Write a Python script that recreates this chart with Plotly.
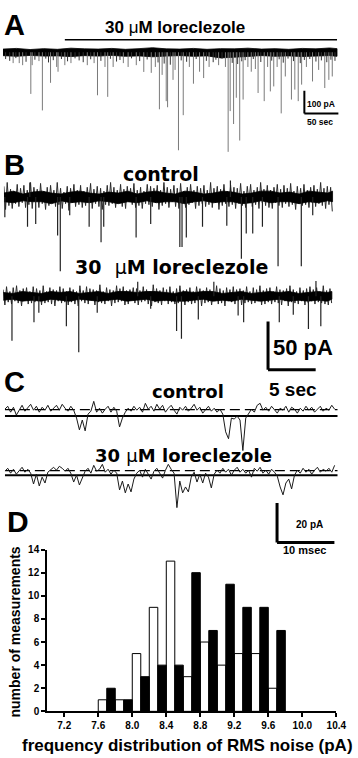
import plotly.graph_objects as go

W, H = 358, 758

# ---------------- Panel A: 500 s recording, events (s, pA) ----------------
A_drug_start_s = 91
A_record_end_s = 491
A_band_t = [0, 20, 40, 60, 80, 100, 120, 140, 160, 180, 200, 220, 240, 260, 280, 300,
            320, 340, 360, 380, 400, 420, 440, 460, 480, 491]
A_band_upper_pA = [14, 17, 12, 16, 13, 18, 15, 14, 17, 13, 16, 20, 15, 14, 17, 13,
                   16, 15, 18, 14, 16, 13, 17, 15, 19, 16]
A_band_lower_pA = [-15, -18, -14, -17, -16, -19, -15, -17, -14, -18, -16, -20, -17, -15, -18, -16,
                   -25, -22, -17, -15, -18, -16, -19, -17, -15, -18]
A_spike_t = [15, 24, 29, 41, 43, 53, 58, 70, 79, 81, 91, 100, 124, 134, 139, 150, 154, 162, 177, 184,
             196, 207, 218, 224, 230, 234, 240, 242, 250, 253, 258, 265, 274, 280, 289, 295, 303, 317,
             327, 331, 334, 339, 343, 348, 353, 360, 365, 371, 375, 384, 389, 393, 398, 403, 409, 415,
             424, 429, 434, 439, 446, 455, 464, 473, 479, 484]
A_spike_pA = [-48, -48, -57, -184, -57, -39, -257, -135, -65, -86, -57, -48, -57, -48, -190, -65, -197,
              -65, -48, -65, -57, -87, -91, -65, -252, -100, -216, -243, -122, -78, -433, -278, -65,
              -139, -86, -114, -65, -57, -65, -440, -260, -317, -201, -390, -209, -65, -86, -74, -180,
              -216, -65, -173, -151, -65, -270, -107, -209, -165, -216, -143, -65, -129, -78, -158,
              -122, -107]
A_small_t = [4, 10, 19, 34, 47, 63, 67, 74, 86, 95, 106, 112, 118, 129, 144, 158, 167, 172, 189, 201,
             212, 228, 237, 246, 262, 270, 284, 299, 309, 313, 322, 337, 345, 351, 356, 368, 379, 395,
             406, 412, 419, 427, 437, 443, 451, 460, 468, 476, 482, 488]
A_small_pA = [-30, -38, -26, -42, -33, -28, -45, -35, -30, -40, -27, -36, -44, -31, -38, -29, -41, -34,
              -27, -39, -32, -45, -50, -55, -36, -42, -30, -38, -44, -33, -29, -47, -52, -40, -35, -30,
              -43, -37, -31, -46, -28, -39, -48, -34, -30, -41, -36, -44, -33, -38]

# ---------------- Panel B: 34.5 s traces sampled every 0.175 s ----------------
B_sample_s = 0.175
B_ctrl_pA = [11, -13, 15, -9, 8, -12, 6, -7, 13, -10, 9, -6, 12, -11, 7, -8, 15, -12, 10, -5,
             8, -11, 14, -7, 6, -13, 10, -9, 12, -6, 7, -10, 15, -8, 9, -12, 5, -7, 11, -14,
             9, -6, 13, -10, 7, -8, 12, -11, 6, -9, 10, -5, 14, -12, 8, -7, 11, -10, 9, -13,
             6, -8, 12, -9, 15, -7, 10, -11, 7, -6, 13, -10, 8, -12, 11, -5, 9, -8, 14, -11,
             7, -9, 10, -12, 6, -7, 13, -8, 11, -10, 9, -6, 12, -13, 7, -9, 15, -7, 10, -11,
             8, -5, 12, -10, 9, -12, 14, -7, 6, -11, 10, -8, 13, -6, 7, -12, 11, -9, 9, -7,
             12, -10, 7, -8, 15, -11, 9, -6, 11, -13, 8, -9, 13, -7, 6, -10, 12, -8, 10, -12,
             9, -7, 14, -9, 6, -11, 11, -5, 13, -10, 7, -8, 10, -12, 15, -6, 8, -9, 12, -11,
             7, -12, 10, -6, 13, -9, 8, -11, 12, -7, 9, -10, 14, -8, 6, -13, 11, -7, 9, -9,
             13, -8, 7, -11, 10, -6, 12, -10, 8, -7, 15, -9, 9, -12, 11, -8, 10, -15]
B_lor_pA = [7, -9, 10, -6, 5, -8, 9, -5, 11, -7, 6, -10, 8, -4, 9, -8, 5, -7, 10, -6,
            8, -5, 6, -9, 11, -7, 5, -6, 9, -8, 7, -10, 6, -5, 10, -7, 8, -6, 5, -9,
            9, -6, 7, -8, 5, -10, 11, -5, 6, -7, 10, -8, 8, -4, 7, -9, 6, -6, 12, -7,
            5, -8, 9, -5, 7, -10, 6, -7, 11, -6, 8, -5, 10, -9, 6, -8, 7, -4, 9, -7,
            8, -9, 6, -6, 10, -5, 7, -8, 5, -10, 12, -6, 8, -7, 6, -9, 9, -5, 7, -8,
            10, -6, 5, -8, 8, -7, 11, -5, 6, -9, 7, -6, 9, -8, 5, -7, 10, -5, 8, -10,
            6, -7, 9, -6, 7, -9, 5, -5, 11, -8, 8, -7, 6, -10, 9, -5, 7, -6, 10, -8,
            7, -5, 8, -9, 6, -7, 10, -6, 5, -8, 9, -7, 7, -5, 11, -9, 6, -8, 8, -6,
            9, -8, 5, -6, 10, -7, 7, -9, 6, -5, 8, -10, 11, -6, 7, -7, 5, -8, 9, -5,
            6, -9, 8, -7, 10, -5, 7, -8, 9, -6, 5, -7, 11, -8, 6, -9, 8, -7]
# dense black core of the noise band (1 s resolution)
B_core_t = [0, 1, 2, 3, 4, 5, 6, 7, 8, 9, 10, 11, 12, 13, 14, 15, 16, 17, 18, 19, 20, 21, 22, 23,
            24, 25, 26, 27, 28, 29, 30, 31, 32, 33, 34, 34.5]
B_ctrl_core_up = [4, 6, 3, 5, 6, 4, 3, 5, 6, 4, 3, 5, 4, 6, 3, 5, 6, 4, 3, 6, 5, 3, 4, 6, 5, 3, 4, 6,
                  6, 4, 5, 3, 6, 5, 4, 6]
B_ctrl_core_lo = [-5, -6, -4, -5, -5, -7, -4, -6, -5, -6, -4, -5, -7, -5, -6, -4, -6, -5, -5, -7,
                  -5, -4, -6, -5, -5, -7, -6, -4, -6, -5, -5, -7, -5, -6, -4, -5]
B_lor_core_up = [4, 3, 5, 4, 3, 5, 4, 5, 3, 4, 5, 3, 5, 5, 4, 5, 5, 4, 3, 5, 4, 5, 5, 3, 4, 5, 3, 4,
                 5, 4, 5, 3, 4, 5, 4, 5]
B_lor_core_lo = [-4, -3, -5, -4, -5, -3, -4, -5, -3, -4, -5, -4, -3, -5, -4, -3, -5, -4, -5, -5,
                 -4, -3, -5, -4, -5, -3, -4, -5, -4, -3, -5, -4, -5, -4, -5, -3]
B_ctrl_event_t = [0.1, 2.48, 2.72, 3.34, 5.64, 5.92, 6.91, 8.95, 10.2, 10.48, 13.88, 15.41, 18.47,
                  18.7, 19.15, 20.85, 23.4, 23.78, 24.93, 25.44, 26.12, 27.14, 28.78, 31.22, 32.42]
B_ctrl_event_pA = [-21, -31, 15, -28, -40, -77, -19, -31, -47, -31, -42, -28, -52, -52, -42, -31,
                   -30, 17, -64, -38, -38, -31, -72, -72, -19]
B_lor_event_t = [0.92, 3.23, 3.74, 6.63, 7.93, 9.87, 14.12, 15.48, 18.2, 18.71, 20.48, 22.11, 24.66,
                 25.24, 28.98, 30.45, 32.04, 32.83, 33.34]
B_lor_event_pA = [-46, -27, -17, -31, -58, -17, 15, -13, -36, -44, -24, 15, -20, -27, -27, -19, -34,
                  16, -31]

# ---------------- Panel C: 58 ms sweeps sampled every 0.5 ms ----------------
C_sample_ms = 0.5
C_ctrl_pA = [3.5, 5.0, 2.0, 4.5, 0.5, 3.0, 5.5, 2.5, 4.0, 6.0, 3.0, 5.0, 2.0, 4.5, 3.0, 5.5, 2.5, 4.0,
             5.5, 3.0, 6.0, 4.0, 2.5, 5.0, 3.0, -1.0, -7.0, -2.0, -7.5, 1.0, 2.5, 7.5,
             2.0, 4.0, 1.5, 3.5, 5.0, 2.0, 4.5, 2.5, -5.5, -1.0, 2.0, 4.0, 2.5, 5.0, 3.0, 4.5, 2.0,
             6.5, 3.5, 5.0, 2.5, 6.0, 3.5, 5.5, 2.0, 4.0, 5.5, 3.0, 1.0, 4.5, 3.0, 5.0, 2.5, 4.0, 6.0,
             3.0, 4.5, 1.5, 3.5, 5.0, 2.5, 4.0, 2.0, 3.5, 1.0, -8.0, -11.5, -1.0, -1.5, 0.0, -2.0,
             -17.5, -1.0, 1.0, 3.5, 2.0, 5.5, 6.5, 3.0, 4.5, 2.5, 5.0, 3.5, 1.5, 4.0, 3.0, 5.0, 2.0,
             4.5, 3.5, 1.5, 4.0, 2.5, 5.0, 3.0, 4.5, 2.0, 3.5, 5.0, 2.5, 4.0, 3.0, 5.5, 3.5]
C_lor_pA = [2.0, 3.5, 1.0, 3.0, 0.5, 2.5, 4.0, 1.5, 3.0, 1.0, -4.5, 0.5, -5.5, -1.0, -4.0,
            1.5, 3.0, 4.0, 2.5, 4.5, 3.5, 2.0, 3.5, 1.0, -3.5, 0.0, -5.0, -1.5,
            2.0, 3.5, 1.0, 5.0, 2.0, 3.0, 5.5, 1.5, 3.0, 0.5, 2.5, 1.0,
            -7.5, -3.0, -9.0, -4.5, -8.5, -2.0, 1.0, 2.5, -1.0, 3.0, 0.5, -2.0, 2.0, 3.5, 1.0, -1.5,
            2.5, 5.5, 3.0, 1.0, -16.5, -3.0, -9.0, -6.0, -8.5, -1.0, 1.5, -3.5, 0.5, -4.0, 1.0, -1.0,
            -6.5, 0.5, 2.5, 1.0, 3.5, 1.5, 3.0, 0.0, 2.5, 4.0, 1.5, 3.0, 1.0, 2.5, -1.0, 3.5, 2.0,
            4.0, 1.0, 2.5, 0.5, 3.0, 1.5, -0.5, -6.0, -10.0, -4.0, -2.0, -7.0,
            0.0, 2.5, 1.0, 3.5, 1.5, 3.0, 0.5, 2.5, 4.0, 1.5, 3.0, 2.0, 3.5, 1.5, 5.0]
C_sweep_end_ms = 58
C_ctrl_dash_pA = 3.3
C_lor_dash_pA = 2.3

# ---------------- Panel D: RMS noise histogram ----------------
rms_bin_control = [7.65, 7.85, 8.05, 8.25, 8.45, 8.65, 8.85, 9.05, 9.25, 9.45, 9.65]
count_control = [1, 1, 5, 9, 13, 3, 6, 4, 5, 5, 2]
rms_bin_lorec = [7.75, 7.95, 8.15, 8.35, 8.55, 8.75, 8.95, 9.15, 9.35, 9.55, 9.75]
count_lorec = [2, 1, 3, 4, 4, 12, 7, 11, 9, 9, 7]
bin_width = 0.1
x_ticks = [7.2, 7.6, 8.0, 8.4, 8.8, 9.2, 9.6, 10.0, 10.4]
y_ticks = [0, 2, 4, 6, 8, 10, 12, 14]

ARIAL = "Liberation Sans"
WIDE = "DejaVu Sans"

fig = go.Figure()


def time_axis(L, R, sx, anchor):
    return dict(domain=[L / W, R / W], range=[0, (R - L) / sx], visible=False,
                fixedrange=True, anchor=anchor)


def amp_axis(B, T, Bt, sy, anchor):
    return dict(domain=[1 - Bt / H, 1 - T / H], range=[-(Bt - B) / sy, (B - T) / sy],
                visible=False, fixedrange=True, anchor=anchor)


def events(ts, amps):
    xs, ys = [], []
    for t, a in zip(ts, amps):
        xs += [t, t, None]
        ys += [0, a, None]
    return xs, ys


def add_band(ts, up, lo, ax):
    bx = list(ts) + list(ts)[::-1]
    by = list(up) + list(lo)[::-1]
    fig.add_trace(go.Scatter(x=bx, y=by, fill="toself", fillcolor="black", mode="lines",
                             line=dict(color="black", width=0.8), xaxis="x" + ax, yaxis="y" + ax,
                             hoverinfo="skip"))


def add_events(ts, amps, ax, color, width=1.0):
    ex, ey = events(ts, amps)
    fig.add_trace(go.Scatter(x=ex, y=ey, mode="lines", line=dict(color=color, width=width),
                             xaxis="x" + ax, yaxis="y" + ax, hoverinfo="skip"))


def add_sweep(vals, dt, ax, color, width):
    ts = [i * dt for i in range(len(vals))]
    fig.add_trace(go.Scatter(x=ts, y=vals, mode="lines", line=dict(color=color, width=width),
                             xaxis="x" + ax, yaxis="y" + ax, hoverinfo="skip"))


# Panel A (axes 2)
add_band(A_band_t, A_band_upper_pA, A_band_lower_pA, "2")
add_events(A_small_t, A_small_pA, "2", "#333333")
add_events(A_spike_t, A_spike_pA, "2", "#7a7a7a")

# Panel B control (axes 3) and loreclezole (axes 4)
add_sweep(B_ctrl_pA, B_sample_s, "3", "#2a2a2a", 1.0)
add_band(B_core_t, B_ctrl_core_up, B_ctrl_core_lo, "3")
add_events(B_ctrl_event_t, B_ctrl_event_pA, "3", "#222222", 1.2)
add_sweep(B_lor_pA, B_sample_s, "4", "#2a2a2a", 1.0)
add_band(B_core_t, B_lor_core_up, B_lor_core_lo, "4")
add_events(B_lor_event_t, B_lor_event_pA, "4", "#222222", 1.2)

# Panel C (axes 5, 6)
for vals, dash_level, ax in [(C_ctrl_pA, C_ctrl_dash_pA, "5"), (C_lor_pA, C_lor_dash_pA, "6")]:
    fig.add_trace(go.Scatter(x=[0, C_sweep_end_ms], y=[0, 0], mode="lines",
                             line=dict(color="black", width=2), xaxis="x" + ax, yaxis="y" + ax))
    fig.add_trace(go.Scatter(x=[0, C_sweep_end_ms], y=[dash_level, dash_level], mode="lines",
                             line=dict(color="black", width=1.2, dash="10px,5px"),
                             xaxis="x" + ax, yaxis="y" + ax))
    add_sweep(vals, C_sample_ms, ax, "#1a1a1a", 1.0)

# Panel D histogram
fig.add_trace(go.Bar(x=rms_bin_control, y=count_control, width=bin_width,
                     marker=dict(color="white", line=dict(color="black", width=1)),
                     xaxis="x", yaxis="y"))
fig.add_trace(go.Bar(x=rms_bin_lorec, y=count_lorec, width=bin_width,
                     marker=dict(color="black", line=dict(color="black", width=1)),
                     xaxis="x", yaxis="y"))

axis_common = dict(showline=True, linewidth=2, linecolor="black", ticks="outside", ticklen=4,
                   tickwidth=1.5, tickcolor="black", showgrid=False, zeroline=False,
                   fixedrange=True,
                   tickfont=dict(family=ARIAL, size=10, color="black", weight="bold"))

fig.update_layout(
    width=W, height=H, margin=dict(l=0, r=0, t=0, b=0),
    paper_bgcolor="white", plot_bgcolor="rgba(0,0,0,0)", showlegend=False,
    barmode="overlay",
    xaxis=dict(domain=[48.6 / W, 346 / W], range=[7.0, 10.4], tickvals=x_ticks,
               ticktext=["%.1f" % v for v in x_ticks], anchor="y", **axis_common),
    yaxis=dict(domain=[1 - 716.7 / H, 1 - 552.3 / H], range=[0, 14], tickvals=y_ticks,
               ticktext=["%d" % v for v in y_ticks], anchor="x", **axis_common),
    xaxis2=time_axis(3, 356, 0.7, "y2"), yaxis2=amp_axis(47, 28, 152, 0.23, "x2"),
    xaxis3=time_axis(4, 350, 9.8, "y3"), yaxis3=amp_axis(194, 172, 276, 0.98, "x3"),
    xaxis4=time_axis(3.3, 350, 9.8, "y4"), yaxis4=amp_axis(295, 276, 374, 0.98, "x4"),
    xaxis5=time_axis(5, 350, 5.9, "y5"), yaxis5=amp_axis(416.7, 398, 460, 2.0, "x5"),
    xaxis6=time_axis(5, 350, 5.9, "y6"), yaxis6=amp_axis(476.7, 462, 549, 2.0, "x6"),
)


def scale_bar(ax, t0, top, amp, dur, width):
    return [dict(type="line", xref="x" + ax, yref="y" + ax, x0=t0, x1=t0, y0=top, y1=top - amp,
                 line=dict(color="black", width=width)),
            dict(type="line", xref="x" + ax, yref="y" + ax, x0=t0, x1=t0 + dur,
                 y0=top - amp, y1=top - amp, line=dict(color="black", width=width))]


shapes = [dict(type="line", xref="x2", yref="paper", x0=A_drug_start_s, x1=A_record_end_s,
               y0=1 - 34.3 / H, y1=1 - 34.3 / H, line=dict(color="black", width=1.5))]
shapes += scale_bar("2", 443, -170, 100, 50, 2)
shapes += scale_bar("4", 27.8, -26.2, 50, 5, 3)
shapes += scale_bar("6", 47.46, -14.15, 20, 10, 3)
fig.update_layout(shapes=shapes)


def note(text, px, py, size, family=ARIAL, angle=0):
    return dict(text=text, x=px / W, y=1 - py / H, xref="paper", yref="paper", showarrow=False,
                xanchor="center", yanchor="middle", textangle=angle,
                font=dict(family=family, size=size, color="black", weight="bold"))


mu = "<span style='font-weight:normal'>\u03bc</span>"
annotations = [
    note("A", 15, 19, 29),
    note("B", 15, 162, 29),
    note("C", 15, 382, 29),
    note("D", 19, 524, 30),
    note("30 " + mu + "M loreclezole", 180, 22, 17),
    note("100 pA", 330, 100, 8.5),
    note("50 sec", 329, 118, 8.5),
    note("control", 165.5, 171, 19, WIDE),
    note("30\u00a0 " + mu + "M loreclezole", 176, 265, 19, WIDE),
    note("50 pA", 312, 346.5, 22),
    note("5 sec", 301.5, 390, 19),
    note("control", 193.5, 391.5, 18, WIDE),
    note("30 " + mu + "M loreclezole", 189, 456.5, 18, WIDE),
    note("20 pA", 318, 526.5, 10),
    note("10 msec", 313, 553, 11),
    note("frequency distribution of RMS noise (pA)", 193, 751, 17),
    note("number of measurements", 15, 636, 14, angle=-90),
]
fig.update_layout(annotations=annotations)

fig.write_html("out.html")
